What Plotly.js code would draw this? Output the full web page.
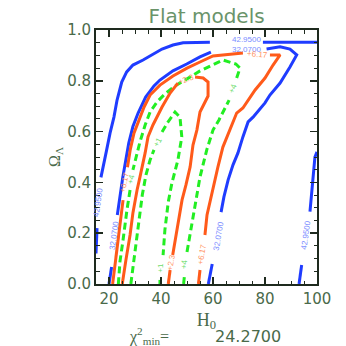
<!DOCTYPE html>
<html>
<head>
<meta charset="utf-8">
<script src="https://cdn.plot.ly/plotly-3.0.1.min.js"></script>
<style>html,body{margin:0;padding:0;background:#fff}#chart{width:346px;height:346px}</style>
</head>
<body>
<div id="chart"></div>
<script>
// ---- contour paths (H0, Omega_Lambda); null = label gap ----
const H0_blueOuterA = [15.0, 15.4, null, 16.9, 17.8, 19.1, 20.4, 21.9, 23.1, 24.9, 26.8, 29.2, 33.1, 36.5, 40.4, 44.6, 48.5, 58.8, null, 79.2, 100];
const OL_blueOuterA = [0.12, 0.22, null, 0.42, 0.46, 0.528, 0.594, 0.657, 0.724, 0.795, 0.835, 0.862, 0.882, 0.902, 0.925, 0.941, 0.950, 0.952, null, 0.952, 0.952];
const H0_blueOuterB = [93.1, 94.1, null, 97.3, 97.7, 98.5, 99.2, 100];
const OL_blueOuterB = [0.0, 0.075, null, 0.285, 0.33, 0.42, 0.50, 0.52];

const H0_blueInner = [20.0, 21.0, null, 23.2, 24.2, 25.3, 26.5, 27.6, 29.2, 31.2, 34.1, 37.3, 39.6, 44.6, 49.9, 55.0, 59.2, null, 80.6, 85.8, 89.6, 92.2, 89.6, 85.8, 81.9, 80.0, 75.4, 73.5, 71.5, 69.6, 67.7, 65.8, 64.2, 63.1, null, 59.7, 58.2];
const OL_blueInner = [0.0, 0.067, null, 0.272, 0.35, 0.42, 0.49, 0.555, 0.62, 0.673, 0.736, 0.78, 0.803, 0.839, 0.866, 0.894, 0.913, null, 0.925, 0.934, 0.925, 0.902, 0.854, 0.791, 0.744, 0.713, 0.657, 0.638, 0.579, 0.516, 0.469, 0.409, 0.343, 0.283, null, 0.079, 0.0];

const H0_orange617 = [21.4, 22.3, 23.5, 24.6, 25.4, null, 27.1, 28.2, 29.6, 31.5, 33.5, 35.8, 39.6, 44.6, 50.0, 55.0, 60.0, 71.5, null, 81.9, 85.8, 83.1, 80.0, 76.2, 74.2, 71.5, 69.1, 66.5, 63.8, 61.9, 60.0, 58.9, 57.7, 56.9, null, 55.0, 54.4];
const OL_orange617 = [0.0, 0.075, 0.173, 0.272, 0.33, null, 0.46, 0.53, 0.594, 0.646, 0.697, 0.744, 0.783, 0.819, 0.850, 0.874, 0.898, 0.909, null, 0.902, 0.902, 0.862, 0.811, 0.764, 0.732, 0.693, 0.673, 0.606, 0.539, 0.461, 0.370, 0.331, 0.272, 0.193, null, 0.055, 0.0];

const H0_green4 = [48.7, 49.0, null, 50.0, 51.7, 53.7, 55.0, 57.6, 60.0, 62.3, 64.2, 66.2, null, 69.1, 70.4, 68.8, 66.5, 63.8, 58.9, 55.0, 51.2, 45.4, 41.5, 38.5, 35.8, 33.9, 31.9, 30.4, 29.2, null, 28.1, 26.9, 25.4, 24.2, 23.6];
const OL_green4 = [0.0, 0.031, null, 0.126, 0.232, 0.35, 0.421, 0.528, 0.606, 0.646, 0.685, 0.724, null, 0.811, 0.850, 0.866, 0.874, 0.882, 0.858, 0.839, 0.815, 0.780, 0.748, 0.717, 0.677, 0.626, 0.559, 0.496, 0.449, null, 0.370, 0.291, 0.173, 0.087, 0.0];

const H0_orange23 = [42.8, 43.5, null, 44.5, 45.8, 47.3, 48.1, 49.6, 51.2, 52.3, 53.8, 55.0, 56.5, 58.1, 58.1, 56.2, 53.1, null, 46.5, 43.5, 40.4, 38.5, 36.9, 35.0, 33.9, 31.9, 30.8, 29.2, 28.1, 26.5, 25.1];
const OL_orange23 = [0.0, 0.055, null, 0.114, 0.193, 0.272, 0.331, 0.390, 0.461, 0.547, 0.606, 0.677, 0.709, 0.740, 0.795, 0.811, 0.815, null, 0.791, 0.752, 0.697, 0.657, 0.626, 0.579, 0.516, 0.421, 0.370, 0.280, 0.193, 0.094, 0.0];

const H0_green1 = [28.4, 29.6, 31.2, 32.8, 34.2, 35.8, 37.3, null, 40.4, 42.7, 45.4, 47.3, 48.0, 46.5, 44.2, 42.8, 41.5, 40.8, null, 39.6, 39.6];
const OL_green1 = [0.0, 0.094, 0.213, 0.35, 0.429, 0.488, 0.528, null, 0.598, 0.638, 0.677, 0.657, 0.579, 0.488, 0.398, 0.323, 0.213, 0.114, null, 0.016, 0.0];

// contour labels: text, H0, Omega_Lambda, angle, group
const labelText  = ["42.9500", "42.9500", "32.0700", "42.9500", "32.0700", "32.0700", "+6.17", "+6.17", "+6.17", "+4", "+4", "+4", "+2.3", "+2.3", "+1", "+1"];
const labelH0    = [15.9, 72.7, 72.9, 95.8, 22.1, 62.3, 25.9, 77.0, 55.6, 28.65, 67.6, 48.8, 49.8, 43.9, 39.0, 39.7];
const labelOL    = [0.32, 0.962, 0.924, 0.19, 0.19, 0.19, 0.40, 0.902, 0.118, 0.415, 0.77, 0.078, 0.806, 0.085, 0.56, 0.065];
const labelAngle = [-82, 0, 0, -82, -82, -80, -78, 5, -80, -75, -70, -85, -20, -80, -62, -90];
const labelGroup = ["b", "b", "b", "b", "b", "b", "o", "o", "o", "g", "g", "g", "o", "o", "g", "g"];

const xTickVals = [20, 40, 60, 80, 100];
const chiMinText = "24.2700";

const BLUE = "#1f3cff", ORANGE = "#ff5a1a", GREEN = "#22ee22";
const LBL = {b: "#7a8cff", o: "#ff9465", g: "#6edc6e"};
const AX = "#4a6a4a", FRAME = "#1e2a1e";

function tr(x, y, color, dash) {
  return {x: x, y: y, type: "scatter", mode: "lines", connectgaps: false,
          line: {color: color, width: 3, dash: dash || "solid"}, hoverinfo: "skip", showlegend: false};
}
const data = [
  tr(H0_blueOuterA, OL_blueOuterA, BLUE),
  tr(H0_blueOuterB, OL_blueOuterB, BLUE),
  tr(H0_blueInner, OL_blueInner, BLUE),
  tr(H0_orange617, OL_orange617, ORANGE),
  tr(H0_green4, OL_green4, GREEN, "7px,4px"),
  tr(H0_orange23, OL_orange23, ORANGE),
  tr(H0_green1, OL_green1, GREEN, "7px,4px")
];

const annotations = labelText.map((t, i) => ({
  x: labelH0[i], y: labelOL[i], xref: "x", yref: "y", text: t, showarrow: false,
  textangle: labelAngle[i], borderpad: 0,
  font: {family: "Liberation Sans", size: 8, color: LBL[labelGroup[i]]}
}));
annotations.push({
  xref: "paper", yref: "paper", x: 0.24, y: -0.205, xanchor: "center", yanchor: "middle",
  text: "χ<sup>2</sup><sub>min</sub>=", showarrow: false,
  font: {family: "Liberation Serif", size: 16, color: AX}
});
annotations.push({
  xref: "paper", yref: "paper", x: 0.69, y: -0.205, xanchor: "center", yanchor: "middle",
  text: chiMinText, showarrow: false,
  font: {family: "DejaVu Sans", size: 16, color: AX}
});

const axisCommon = {
  showline: true, linecolor: FRAME, linewidth: 2, mirror: "ticks",
  ticks: "inside", tickcolor: FRAME, tickwidth: 1.5, ticklen: 7,
  showgrid: false, zeroline: false, fixedrange: true,
  tickfont: {family: "DejaVu Sans", size: 15, color: AX}
};

const layout = {
  width: 346, height: 346,
  margin: {l: 96, r: 29, t: 30, b: 62},
  paper_bgcolor: "#ffffff", plot_bgcolor: "#ffffff",
  title: {text: "Flat models", x: 0.5, xref: "paper", y: 1 - 16 / 346, yanchor: "middle",
          font: {family: "DejaVu Sans", size: 20, color: "#6a946a"}},
  xaxis: Object.assign({}, axisCommon, {
    range: [15, 100], tickvals: xTickVals,
    minor: {dtick: 5, tick0: 0, ticks: "inside", ticklen: 3.5, tickcolor: FRAME, tickwidth: 1},
    title: {text: "H<sub>0</sub>", standoff: 6, font: {family: "Liberation Serif", size: 18, color: AX}}
  }),
  yaxis: Object.assign({}, axisCommon, {
    range: [0, 1], dtick: 0.2, tick0: 0, tickformat: ".1f",
    minor: {dtick: 0.05, tick0: 0, ticks: "inside", ticklen: 3.5, tickcolor: FRAME, tickwidth: 1},
    title: {text: "Ω<sub>Λ</sub>", standoff: 3, font: {family: "Liberation Serif", size: 16, color: AX}}
  }),
  annotations: annotations,
  showlegend: false
};

Plotly.newPlot("chart", data, layout, {displayModeBar: false, staticPlot: true});
</script>
</body>
</html>
